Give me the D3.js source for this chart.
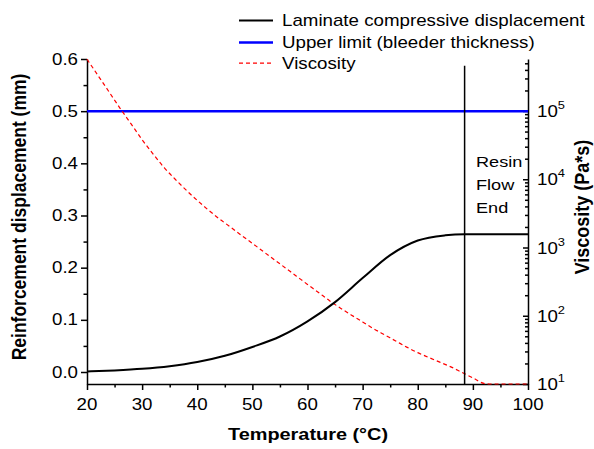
<!DOCTYPE html>
<html>
<head>
<meta charset="utf-8">
<script src="https://cdn.jsdelivr.net/npm/d3@7"></script>
<style>
  html, body { margin: 0; padding: 0; background: #fff; }
  svg { display: block; font-family: "Liberation Sans", Arial, sans-serif; }
</style>
</head>
<body>
<svg id="chart" width="594" height="449"></svg>
<script>
// ---------- data ----------
const dispTemps = [20, 25, 30, 35, 40, 45, 50, 55, 60, 65, 70, 75, 80, 85, 88.5, 92, 100];
const displacement = [0.001, 0.003, 0.006, 0.011, 0.019, 0.031, 0.048, 0.068, 0.097, 0.134, 0.180, 0.224, 0.252, 0.262, 0.264, 0.264, 0.264];

const viscTemps = [20, 22, 24, 26, 28, 30, 32, 34, 36, 38, 40, 42, 44, 46, 48, 50, 52, 54, 56, 58, 60,
                   62, 64, 66, 68, 70, 72, 74, 76, 78, 80, 82, 84, 86, 88, 90, 92, 93, 100];
const viscosity = [575000, 331000, 190500, 109600, 64600, 38000, 23400, 14800, 10000, 6920, 4900, 3550, 2630, 2000, 1510, 1150, 871, 661, 501, 380, 288,
                   219, 166, 129, 102, 81.3, 64.6, 52.5, 42.7, 34.7, 28.8, 24.5, 20.9, 17.8, 14.8, 12.3, 10.2, 10, 10];

const upperLimit = 0.5;          // bleeder thickness (mm)
const resinFlowEndTemp = 88.5;   // °C
const resinLineTop = 0.587;      // top of marker line (mm scale)

const xTicks = [20, 30, 40, 50, 60, 70, 80, 90, 100];
const xMinor = [25, 35, 45, 55, 65, 75, 85, 95];
const yTicks = [0.0, 0.1, 0.2, 0.3, 0.4, 0.5, 0.6];
const yMinor = [0.05, 0.15, 0.25, 0.35, 0.45, 0.55];
const rExps = [1, 2, 3, 4, 5];

const legendLabels = ["Laminate compressive displacement", "Upper limit (bleeder thickness)", "Viscosity"];
const annotation = ["Resin", "Flow", "End"];

// ---------- layout ----------
const L = 87, R = 528, T = 59, B = 384;
const SX = 1.17; // horizontal stretch of the original figure's text

const svg = d3.select("#chart");
const x = d3.scaleLinear().domain([20, 100]).range([L, R]);
const yL = d3.scaleLinear().domain([-0.023, 0.6]).range([B, T]);
const yR = d3.scaleLog().domain([10, Math.pow(10, 5.762)]).range([B, T]);

function stext(g, tx, ty, str, opts = {}) {
  const t = g.append("text")
    .attr("transform", `translate(${tx},${ty}) ${opts.rot ? `rotate(${opts.rot}) scale(1,${SX})` : `scale(${SX},1)`}`)
    .attr("text-anchor", opts.anchor || "start")
    .attr("font-size", opts.size || 16)
    .attr("font-weight", opts.weight || "normal")
    .attr("fill", "#000");
  t.text(str);
  return t;
}

// ---------- axes (tick marks) ----------
const axW = 1.5;
function styleAxis(g) {
  g.selectAll("path.domain").attr("stroke", "#000").attr("stroke-width", axW);
  g.selectAll(".tick line").attr("stroke", "#000").attr("stroke-width", axW);
  g.selectAll(".tick text").remove();
}

// bottom
svg.append("g").attr("transform", `translate(0,${B})`)
  .call(d3.axisBottom(x).tickValues(xTicks).tickSize(6).tickSizeOuter(0).tickFormat(""))
  .call(styleAxis);
svg.append("g").attr("transform", `translate(0,${B})`)
  .call(d3.axisBottom(x).tickValues(xMinor).tickSize(3.5).tickSizeOuter(0).tickFormat(""))
  .call(styleAxis).call(g => g.select(".domain").remove());

// left
svg.append("g").attr("transform", `translate(${L},0)`)
  .call(d3.axisLeft(yL).tickValues(yTicks).tickSize(6).tickSizeOuter(0).tickFormat(""))
  .call(styleAxis);
svg.append("g").attr("transform", `translate(${L},0)`)
  .call(d3.axisLeft(yL).tickValues(yMinor).tickSize(3.5).tickSizeOuter(0).tickFormat(""))
  .call(styleAxis).call(g => g.select(".domain").remove());

// right (log, inward ticks)
const rMajor = rExps.map(e => Math.pow(10, e));
const rMinor = [];
for (let e = 1; e <= 5; e++) for (let m = 2; m <= 9; m++) {
  const v = m * Math.pow(10, e);
  if (v <= yR.domain()[1]) rMinor.push(v);
}
svg.append("g").attr("transform", `translate(${R},0)`)
  .call(d3.axisLeft(yR).tickValues(rMajor).tickSize(5).tickSizeOuter(0).tickFormat(""))
  .call(styleAxis);
svg.append("g").attr("transform", `translate(${R},0)`)
  .call(d3.axisLeft(yR).tickValues(rMinor).tickSize(3).tickSizeOuter(0).tickFormat(""))
  .call(styleAxis).call(g => g.select(".domain").remove());

// ---------- tick labels ----------
const labels = svg.append("g");
xTicks.forEach(v => stext(labels, x(v), 410, String(v), { anchor: "middle" }));
yTicks.forEach(v => stext(labels, 78, yL(v) + 5.5, d3.format(".1f")(v), { anchor: "end" }));
rExps.forEach(e => {
  const t = labels.append("text")
    .attr("transform", `translate(537,${yR(Math.pow(10, e)) + 6}) scale(${SX},1)`)
    .attr("font-size", 16);
  t.append("tspan").text("10");
  t.append("tspan").attr("font-size", 11).attr("dy", -8).text(String(e));
});

// ---------- axis titles ----------
stext(svg, 308, 440, "Temperature (°C)", { anchor: "middle", size: 17, weight: "bold" });
stext(svg, 26, 217, "Reinforcement displacement (mm)", { anchor: "middle", size: 17.5, weight: "bold", rot: -90 });
stext(svg, 589, 207, "Viscosity (Pa*s)", { anchor: "middle", size: 18, weight: "bold", rot: -90 });

// ---------- data lines ----------
const plot = svg.append("g");

// upper limit
plot.append("line")
  .attr("x1", x(20)).attr("x2", x(100))
  .attr("y1", yL(upperLimit)).attr("y2", yL(upperLimit))
  .attr("stroke", "#0000ff").attr("stroke-width", 2.5);

// viscosity (right axis)
plot.append("path")
  .datum(viscTemps.map((t, i) => [t, viscosity[i]]))
  .attr("fill", "none").attr("stroke", "#ff0000").attr("stroke-width", 1.2)
  .attr("stroke-dasharray", "4,3")
  .attr("d", d3.line().x(d => x(d[0])).y(d => yR(d[1])).curve(d3.curveMonotoneX));

// displacement
plot.append("path")
  .datum(dispTemps.map((t, i) => [t, displacement[i]]))
  .attr("fill", "none").attr("stroke", "#000").attr("stroke-width", 2)
  .attr("d", d3.line().x(d => x(d[0])).y(d => yL(d[1])).curve(d3.curveMonotoneX));

// resin flow end marker
plot.append("line")
  .attr("x1", x(resinFlowEndTemp)).attr("x2", x(resinFlowEndTemp))
  .attr("y1", yL(resinLineTop)).attr("y2", B)
  .attr("stroke", "#000").attr("stroke-width", 1.5);

annotation.forEach((s, i) => stext(svg, 476, 167.3 + i * 22.7, s, { size: 15.5 }));

// ---------- legend ----------
const legend = svg.append("g");
const legStyles = [
  { stroke: "#000", w: 2, dash: null },
  { stroke: "#0000ff", w: 2.5, dash: null },
  { stroke: "#ff0000", w: 1.2, dash: "4,3" }
];
const legBase = [25.7, 47.7, 68.5];
legendLabels.forEach((lab, i) => {
  legend.append("line")
    .attr("x1", 239).attr("x2", 273)
    .attr("y1", legBase[i] - 5.3).attr("y2", legBase[i] - 5.3)
    .attr("stroke", legStyles[i].stroke).attr("stroke-width", legStyles[i].w)
    .attr("stroke-dasharray", legStyles[i].dash);
  stext(legend, 282, legBase[i], lab, { size: 16 });
});
</script>
</body>
</html>
